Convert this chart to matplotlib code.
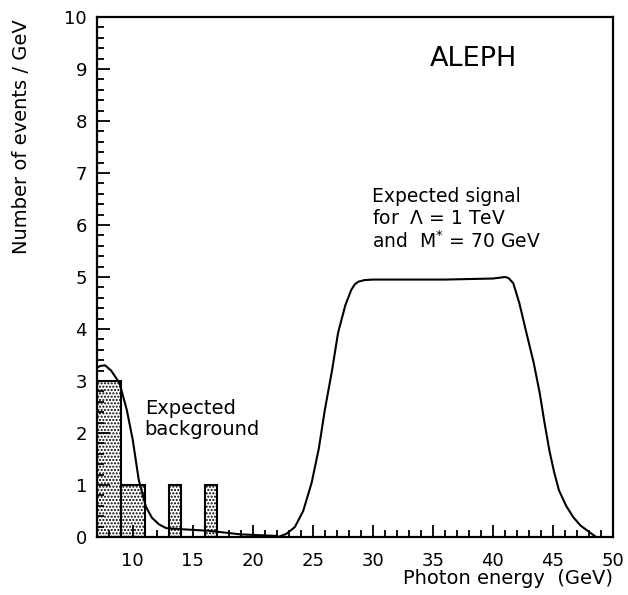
import matplotlib
matplotlib.use('Agg')
import matplotlib.pyplot as plt
from matplotlib.ticker import MultipleLocator
import numpy as np

# histogram of expected background counts
bin_left = [7, 9, 13, 16]
bin_width = [2, 2, 1, 1]
bin_height = [3, 1, 1, 1]

# expected background curve
bkg_x = [7.0, 7.3, 7.7, 8.2, 8.9, 9.5, 10.0, 10.5, 11.1, 11.6, 12.2, 12.8, 14.0, 16.3, 19.0, 22.0]
bkg_y = [3.25, 3.29, 3.30, 3.2, 2.96, 2.45, 1.87, 1.10, 0.58, 0.37, 0.24, 0.17, 0.15, 0.12, 0.05, 0.02]

# expected signal curve (Lambda = 1 TeV, M* = 70 GeV)
sig_x = [22.1, 22.8, 23.5, 24.2, 24.9, 25.5, 26.0, 26.6, 27.1, 27.7, 28.2, 28.5, 28.8, 29.3, 30.0, 32.0,
         36.0, 40.0, 40.7, 41.0, 41.3, 41.7, 42.2, 42.8, 43.4, 43.9, 44.3, 44.7, 45.1, 45.5, 46.1,
         46.7, 47.3, 48.0, 48.6]
sig_y = [0.0, 0.06, 0.19, 0.5, 1.04, 1.7, 2.44, 3.2, 3.92, 4.45, 4.75, 4.86, 4.91, 4.94, 4.95, 4.95,
         4.95, 4.97, 4.99, 5.0, 4.98, 4.88, 4.5, 3.92, 3.35, 2.77, 2.2, 1.67, 1.25, 0.9, 0.6,
         0.38, 0.22, 0.1, 0.0]

plt.rcParams['font.family'] = ['DejaVu Sans']
plt.rcParams['hatch.linewidth'] = 1.0

fig = plt.figure(figsize=(6.28, 5.95), dpi=100)
ax = fig.add_axes([0.154, 0.0975, 0.822, 0.874])

ax.bar(bin_left, bin_height, width=bin_width, align='edge', facecolor='white',
       edgecolor='black', hatch='.....', linewidth=1.5)
ax.plot(bkg_x, bkg_y, color='black', lw=1.5)
ax.plot(sig_x, sig_y, color='black', lw=1.5)

ax.set_xlim(7, 50)
ax.set_ylim(0, 10)
ax.xaxis.set_major_locator(MultipleLocator(5))
ax.xaxis.set_minor_locator(MultipleLocator(1))
ax.yaxis.set_major_locator(MultipleLocator(1))
ax.yaxis.set_minor_locator(MultipleLocator(0.2))
ax.tick_params(which='both', direction='in', top=False, right=False, labelsize=13, width=1.3)
ax.tick_params(which='major', length=9)
ax.tick_params(which='minor', length=5)
ax.tick_params(axis='x', pad=11)
ax.tick_params(axis='y', pad=7)
for s in ax.spines.values():
    s.set_linewidth(1.6)

ax.set_ylabel('Number of events / GeV', fontsize=14)
ax.yaxis.set_label_coords(-0.128, 0.77)
ax.set_xlabel('Photon energy  (GeV)', fontsize=14, ha='right', va='top')
ax.xaxis.set_label_coords(1.0, -0.062)

ax.text(38.4, 9.2, 'ALEPH', fontsize=19.5, ha='center', va='center')
ax.text(29.9, 5.56, 'Expected signal\nfor  $\\Lambda$ = 1 TeV\nand  M$^{*}$ = 70 GeV',
        fontsize=13.5, ha='left', va='baseline', linespacing=1.15)
ax.text(11.0, 1.96, 'Expected\nbackground', fontsize=14, ha='left', va='baseline', linespacing=1.15)

fig.savefig('out.png', dpi=100)
